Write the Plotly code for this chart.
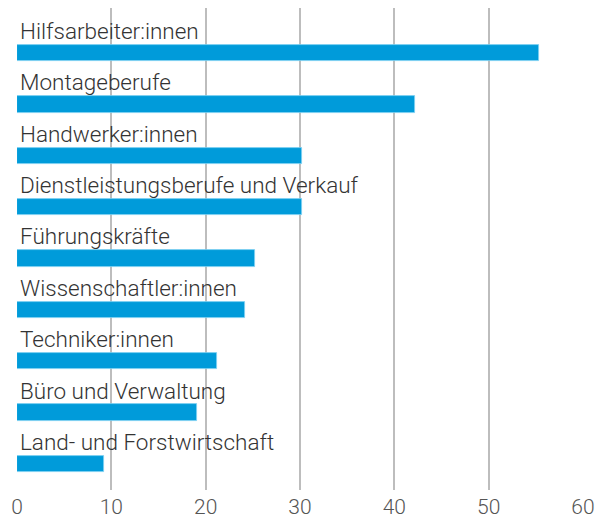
import plotly.graph_objects as go

categories = ["Hilfsarbeiter:innen", "Montageberufe", "Handwerker:innen",
              "Dienstleistungsberufe und Verkauf", "Führungskräfte",
              "Wissenschaftler:innen", "Techniker:innen", "Büro und Verwaltung",
              "Land- und Forstwirtschaft"]
values = [55.3, 42.2, 30.2, 30.2, 25.2, 24.2, 21.2, 19.1, 9.2]
tick_vals = [0, 10, 20, 30, 40, 50, 60]

pos = list(range(len(categories)))

fig = go.Figure()
fig.add_trace(go.Bar(
    x=values, y=pos, orientation="h", width=0.32,
    marker=dict(color="#009BDA", line=dict(color="#7FD0F2", width=0.8)),
    hoverinfo="x+text", hovertext=categories, showlegend=False,
))

for i, c in enumerate(categories):
    fig.add_annotation(x=0, y=i - 0.43, text=c, showarrow=False,
                       xanchor="left", yanchor="middle", xshift=1,
                       font=dict(family="Roboto", size=22.5, color="#333333", weight=300))

fig.update_layout(
    width=602, height=519,
    margin=dict(l=17, r=19, t=8, b=29, autoexpand=False),
    paper_bgcolor="white", plot_bgcolor="white",
    bargap=0,
    xaxis=dict(range=[0, 60], tickvals=tick_vals, showgrid=True,
               gridcolor="#BDBDBD", gridwidth=2, zeroline=False, showline=False,
               ticks="", ticklabelstandoff=2,
               tickfont=dict(family="Roboto", size=21, color="#555555", weight=300),
               fixedrange=True),
    yaxis=dict(range=[8.506, -0.875], showticklabels=False, showgrid=False,
               zeroline=False, showline=False, fixedrange=True),
)

fig.write_html("out.html", config={"displayModeBar": False},
               post_script="document.body.style.margin='0';document.body.style.overflow='hidden';")
